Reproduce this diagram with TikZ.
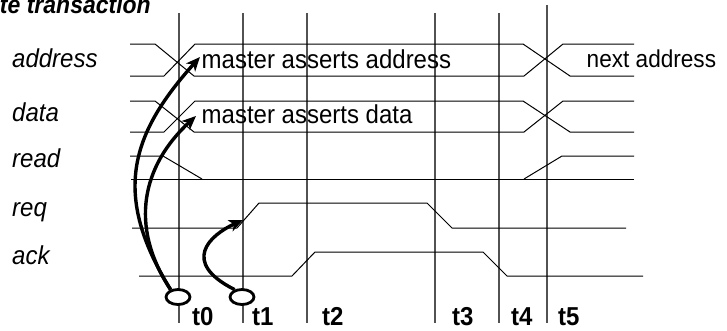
\documentclass[tikz,border=0pt]{standalone}
\usepackage{fontspec}
\setmainfont{Liberation Sans}
\usetikzlibrary{arrows.meta,shapes.geometric}
% lettering in this figure is set slightly tall
\newcommand{\tallish}[1]{\scalebox{1}[1.08]{#1}}

\begin{document}
\begin{tikzpicture}[x=1pt,y=-1pt,
  grid/.style={draw=black!68, line width=1.8pt},
  sig/.style={draw=black, line width=1pt},
  cause/.style={draw=black, line width=3.4pt,
    -{Stealth[length=14pt,width=12pt,inset=4pt]}},
  strobe/.style={ellipse, draw=black, line width=2.8pt, fill=white,
    minimum width=24pt, minimum height=15pt, inner sep=0pt},
  lbl/.style={font=\fontsize{24}{28}\selectfont\itshape, anchor=base west, inner sep=0pt},
  txt/.style={font=\fontsize{24}{28}\selectfont, anchor=base west, inner sep=0pt},
  tick/.style={font=\fontsize{24}{28}\selectfont\bfseries, anchor=base west, inner sep=0pt},
  ttl/.style={font=\fontsize{23}{28}\selectfont\bfseries\itshape, anchor=base east, inner sep=0pt}]

\useasboundingbox (0,0) rectangle (727,330);

% title
\node[ttl] (title) at (151,13) {\tallish{te transaction}};

% time markers
\foreach \x/\top in {179/13, 243/13, 307/13, 435/13, 499/13, 547/5}
  \draw[grid] (\x,\top) -- (\x,323);
\foreach \x/\lab in {192/t0, 252/t1, 322/t2, 452/t3, 511/t4, 558/t5}
  \node[tick] (\lab) at (\x,325) {\tallish{\lab}};

% signal names
\node[lbl] (nAddr) at (12,67)  {\tallish{address}};
\node[lbl] (nData) at (12,121) {\tallish{data}};
\node[lbl] (nRead) at (12,167) {\tallish{read}};
\node[lbl] (nReq)  at (12,216) {\tallish{req}};
\node[lbl] (nAck)  at (12,264) {\tallish{ack}};

% address bus
\draw[sig] (130,44) -- (155,44) -- (194,76) -- (524,76) -- (563,44) -- (634,44);
\draw[sig] (130,76) -- (164,76) -- (195,44) -- (523,44) -- (570,76) -- (634,76);
% data bus
\draw[sig] (130,101) -- (155,101) -- (194,132) -- (524,132) -- (563,101) -- (634,101);
\draw[sig] (130,132) -- (164,132) -- (195,101) -- (523,101) -- (570,132) -- (634,132);
% read
\draw[sig] (130,156) -- (163,156) -- (202,179);
\draw[sig] (131,179) -- (634,179);
\draw[sig] (524,179) -- (562,156) -- (634,156);
% req
\draw[sig] (132,228) -- (237,228) -- (259,203) -- (427,203) -- (452,228) -- (626,228);
% ack
\draw[sig] (139,276) -- (292,276) -- (315,252) -- (483,252) -- (507,276) -- (643,276);

% bus contents
\node[txt] (addr) at (201.5,68) {\tallish{master asserts address}};
\node[txt] (dat)  at (201.5,123) {\tallish{master asserts data}};
\node[txt, font=\fontsize{22.6}{28}\selectfont] (nxt) at (586.5,67) {\tallish{next address}};

% causality
\coordinate (tipA) at (200,57);
\coordinate (tipD) at (196,116);
\coordinate (tipR) at (243,220);
\node[strobe] (s0) at (178,297) {};
\node[strobe] (s1) at (242,297) {};
\draw[cause] (s0.135) .. controls (112,195) and (130,135) .. (tipA);
\draw[cause] (s0.135) .. controls (128,225) and (143,165) .. (tipD);
\draw[cause] (s1.135) .. controls (180,262) and (210,235) .. (tipR);

\end{tikzpicture}
\end{document}
